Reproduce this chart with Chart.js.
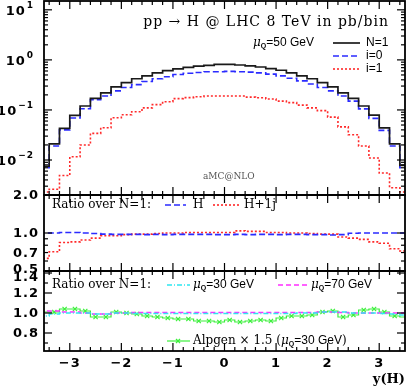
<!DOCTYPE html>
<html>
<head>
<meta charset="utf-8">
<script src="https://cdn.jsdelivr.net/npm/chart.js@4/dist/chart.umd.min.js"></script>
<style>
  html, body { margin: 0; padding: 0; background: #fff; }
</style>
</head>
<body>
<canvas id="c" width="407" height="389"></canvas>
<script>
// bin centres in y(H), bins are 0.2 wide
const binCenters = [-3.5, -3.3, -3.1, -2.9, -2.7, -2.5, -2.3, -2.1, -1.9, -1.7, -1.5, -1.3, -1.1, -0.9, -0.7, -0.5, -0.3, -0.1,
                    0.1, 0.3, 0.5, 0.7, 0.9, 1.1, 1.3, 1.5, 1.7, 1.9, 2.1, 2.3, 2.5, 2.7, 2.9, 3.1, 3.3, 3.5];
const binWidth = 0.2;

// top panel: pp -> H, pb/bin
const nEq1 = [0.0075, 0.021, 0.043, 0.078, 0.12, 0.17, 0.22, 0.29, 0.35, 0.42, 0.48, 0.55, 0.61, 0.66, 0.71, 0.75, 0.78, 0.81,
              0.81, 0.79, 0.76, 0.72, 0.67, 0.62, 0.55, 0.48, 0.42, 0.35, 0.29, 0.22, 0.17, 0.12, 0.079, 0.044, 0.021, 0.0078];
const iEq0 = [0.007, 0.019, 0.040, 0.069, 0.106, 0.16, 0.19, 0.24, 0.28, 0.32, 0.37, 0.42, 0.46, 0.51, 0.54, 0.56, 0.58, 0.58,
              0.59, 0.58, 0.57, 0.55, 0.52, 0.48, 0.43, 0.38, 0.33, 0.28, 0.24, 0.19, 0.15, 0.105, 0.068, 0.039, 0.019, 0.007];
const iEq1 = [0.0023, 0.0026, 0.0049, 0.0116, 0.020, 0.034, 0.044, 0.070, 0.080, 0.092, 0.11, 0.128, 0.146, 0.168, 0.176, 0.184, 0.19, 0.19,
              0.19, 0.19, 0.18, 0.175, 0.165, 0.15, 0.14, 0.125, 0.11, 0.097, 0.072, 0.046, 0.032, 0.019, 0.011, 0.0055, 0.0028, 0.0023];

// middle panel: ratio over N=1
const ratioH = [1.0, 1.0, 1.01, 1.01, 1.0, 0.99, 0.98, 0.975, 0.975, 0.975, 0.97, 0.975, 0.97, 0.975, 0.975, 0.975, 0.975, 0.97,
                0.97, 0.975, 0.97, 0.975, 0.975, 0.97, 0.975, 0.975, 0.97, 0.97, 0.965, 0.97, 0.995, 1.0, 1.0, 1.0, 1.0, 1.0];
const ratioH1j = [0.63, 0.71, 0.84, 0.85, 0.88, 0.91, 0.95, 0.95, 0.97, 0.98, 0.98, 0.99, 1.0, 1.0, 1.01, 1.01, 1.01, 1.01,
                  1.01, 1.04, 1.03, 1.03, 1.01, 1.01, 1.0, 1.0, 0.99, 0.98, 0.98, 0.93, 0.91, 0.89, 0.85, 0.83, 0.75, 0.72];

// bottom panel: ratio over N=1
const ratioMu30 = [0.97, 0.99, 1.0, 1.0, 1.0, 0.99, 0.99, 1.0, 1.0, 0.995, 0.995, 0.995, 0.995, 0.995, 0.995, 0.995, 0.995, 0.995,
                   0.995, 0.995, 0.995, 0.995, 0.995, 0.995, 0.995, 1.0, 1.0, 1.01, 1.01, 1.01, 1.0, 1.0, 1.0, 0.995, 0.99, 0.98];
const ratioMu70 = [1.02, 1.02, 1.01, 1.01, 1.0, 0.99, 0.99, 1.0, 1.0, 1.005, 1.005, 1.005, 1.005, 1.005, 1.005, 1.005, 1.005, 1.005,
                   1.005, 1.005, 1.005, 1.005, 1.005, 1.005, 1.005, 1.005, 1.005, 1.01, 1.01, 1.005, 1.0, 1.0, 1.0, 1.0, 1.0, 1.0];
const alpgen = [1.01, 1.01, 1.04, 1.04, 1.02, 0.96, 0.96, 1.01, 1.0, 0.99, 0.97, 0.96, 0.95, 0.94, 0.94, 0.92, 0.92, 0.91,
                0.93, 0.91, 0.92, 0.93, 0.92, 0.95, 0.97, 0.97, 0.98, 1.01, 1.02, 0.96, 0.98, 1.03, 1.04, 1.01, 0.97, 0.96];

// axis ticks and labels
const xTicks = [-3, -2, -1, 0, 1, 2, 3];
const xTickLabels = ['\u22123', '\u22122', '\u22121', '0', '1', '2', '3'];
const topTicks = [0.01, 0.1, 1, 10];
const topTickExp = ['\u22122', '\u22121', '0', '1'];
const midTicks = [0.5, 0.7, 1.0, 2.0];
const midTickLabels = ['0.5', '0.7', '1.0', '2.0'];
const botTicks = [0.8, 1.0, 1.2, 1.4];
const botTickLabels = ['0.8', '1.0', '1.2', '1.4'];

const SERIF = '"DejaVu Serif"';
const SANS = '"Liberation Sans"';
const TICK_FONT = 'bold 13px "DejaVu Sans"';

// histogram as stepped line: one point per left edge plus the last right edge
function histPoints(vals) {
    const pts = binCenters.map((c, i) => ({ x: c - binWidth / 2, y: vals[i] }));
    pts.push({ x: binCenters[binCenters.length - 1] + binWidth / 2, y: vals[vals.length - 1] });
    return pts;
}

function histLine(label, vals, axis, color, width, dash) {
    return {
        label: label, data: histPoints(vals), yAxisID: axis,
        borderColor: color, borderWidth: width, borderDash: dash,
        stepped: true, pointRadius: 0, fill: false
    };
}

const datasets = [
    histLine('N=1', nEq1, 'yTop', '#1a1a1a', 1.7, []),
    histLine('i=0', iEq0, 'yTop', '#2b2bff', 1.6, [6, 3]),
    histLine('i=1', iEq1, 'yTop', '#ff2a2a', 1.6, [2, 2]),
    histLine('H', ratioH, 'yMid', '#2b2bff', 1.6, [6, 3]),
    histLine('H+1j', ratioH1j, 'yMid', '#ff2a2a', 1.6, [2, 2]),
    histLine('mu30', ratioMu30, 'yBot', '#2ee6f0', 1.4, [5, 2, 1, 2]),
    histLine('mu70', ratioMu70, 'yBot', '#ff2eff', 1.4, [5, 3]),
    histLine('Alpgen', alpgen, 'yBot', '#3cf03c', 1.2, []),
    {
        label: 'Alpgen points',
        data: binCenters.map((c, i) => ({ x: c, y: alpgen[i] })),
        yAxisID: 'yBot', showLine: false,
        pointStyle: 'crossRot', borderColor: '#3cf03c', borderWidth: 1.2,
        pointRadius: ctx => (Math.abs(binCenters[ctx.dataIndex]) > 3.4 ? 0 : 3)
    }
];

function line(ctx, x0, y0, x1, y1) {
    ctx.beginPath(); ctx.moveTo(x0, y0); ctx.lineTo(x1, y1); ctx.stroke();
}

function legendLine(ctx, x0, x1, y, ds) {
    ctx.save();
    ctx.strokeStyle = ds.borderColor; ctx.lineWidth = ds.borderWidth;
    ctx.setLineDash(ds.borderDash || []);
    line(ctx, x0, y, x1, y);
    ctx.restore();
}

// write text pieces one after another
function drawParts(ctx, x, y, parts) {
    ctx.textAlign = 'left'; ctx.textBaseline = 'middle';
    for (const p of parts) {
        ctx.font = p.font;
        ctx.fillText(p.t, x, y + (p.dy || 0));
        x += ctx.measureText(p.t).width;
    }
    return x;
}

function muQ(val, size) {
    return [
        { t: '\u03bc', font: 'italic ' + size + 'px ' + SERIF },
        { t: 'Q', font: 'bold ' + Math.round(size * 0.62) + 'px ' + SANS, dy: 3 },
        { t: '=' + val + ' GeV', font: size + 'px ' + SANS }
    ];
}

const framePlugin = {
    id: 'frame',
    afterDatasetsDraw(chart) {
        const { ctx, chartArea: a, scales } = chart;
        const xs = scales.x;
        ctx.save();
        ctx.strokeStyle = '#000';
        ctx.fillStyle = '#000';
        ctx.lineWidth = 1.2;

        const panels = ['yTop', 'yMid', 'yBot'].map(id => scales[id]);
        const yMinor = {
            yTop: [], yMid: [0.6, 0.7, 0.8, 0.9], yBot: [0.7, 0.9, 1.1, 1.3]
        };
        for (let d = -3; d <= 1; d++) for (let m = 2; m <= 9; m++) yMinor.yTop.push(m * Math.pow(10, d));
        const yMajor = { yTop: topTicks, yMid: [1.0, 2.0], yBot: botTicks };

        for (const s of panels) {
            // x ticks, inward at top and bottom of each panel
            for (let k = -17; k <= 17; k++) {
                const px = xs.getPixelForValue(k / 5);
                const len = (k % 5 === 0) ? 8 : 4;
                line(ctx, px, s.top, px, s.top + len);
                line(ctx, px, s.bottom, px, s.bottom - len);
            }
            // y ticks, inward at left and right
            const draw = (v, len) => {
                if (v < s.min || v > s.max) return;
                const py = s.getPixelForValue(v);
                line(ctx, a.left, py, a.left + len, py);
                line(ctx, a.right, py, a.right - len, py);
            };
            yMinor[s.id].forEach(v => draw(v, 4));
            yMajor[s.id].forEach(v => draw(v, 8));
        }

        // panel frames
        ctx.lineWidth = 1.8;
        for (const s of panels) ctx.strokeRect(a.left, s.top, a.right - a.left, s.bottom - s.top);

        // tick labels
        ctx.textBaseline = 'middle';
        ctx.letterSpacing = '1px';
        const yt = scales.yTop;
        topTicks.forEach((v, i) => {
            const py = yt.getPixelForValue(v);
            ctx.textAlign = 'right';
            ctx.font = 'bold 9px "DejaVu Sans"';
            const w = ctx.measureText(topTickExp[i]).width;
            ctx.fillText(topTickExp[i], 34, py - 4);
            ctx.font = TICK_FONT;
            ctx.fillText('10', 33 - w, py + 2);
        });
        ctx.font = TICK_FONT;
        ctx.textAlign = 'right';
        midTicks.forEach((v, i) => ctx.fillText(midTickLabels[i], 39, scales.yMid.getPixelForValue(v) + (v === 0.5 ? -1 : 1)));
        botTicks.forEach((v, i) => ctx.fillText(botTickLabels[i], 39, scales.yBot.getPixelForValue(v) + (v === 1.4 ? 5 : 1)));
        ctx.textAlign = 'center';
        xTicks.forEach((v, i) => ctx.fillText(xTickLabels[i], xs.getPixelForValue(v), 364));
        ctx.letterSpacing = '0px';

        ctx.textAlign = 'right';
        ctx.font = 'bold 13px ' + SERIF;
        ctx.fillText('y(H)', 405, 380);

        // top panel texts and legend
        ctx.font = '14px ' + SERIF;
        ctx.letterSpacing = '1px';
        ctx.fillText('pp \u2192 H @ LHC 8 TeV in pb/bin', 389, 22);
        ctx.letterSpacing = '0px';
        drawParts(ctx, 253, 43, muQ(50, 12));
        const ds = chart.data.datasets;
        [[0, 'N=1', 43], [1, 'i=0', 56], [2, 'i=1', 69]].forEach(([k, t, y]) => {
            legendLine(ctx, 333, 360, y, ds[k]);
            ctx.fillStyle = '#000';
            drawParts(ctx, 366, y, [{ t: t, font: '12px ' + SANS }]);
        });
        ctx.fillStyle = '#555';
        drawParts(ctx, 203, 177, [{ t: 'aMC@NLO', font: '9px ' + SERIF }]);
        ctx.fillStyle = '#000';

        // middle panel legend
        drawParts(ctx, 52, 205, [{ t: 'Ratio over N=1:', font: '12px ' + SERIF }]);
        legendLine(ctx, 165, 186, 205, ds[3]);
        drawParts(ctx, 193, 205, [{ t: 'H', font: '12px ' + SERIF }]);
        legendLine(ctx, 213, 240, 205, ds[4]);
        drawParts(ctx, 244, 205, [{ t: 'H+1j', font: '12px ' + SERIF }]);

        // bottom panel legend
        drawParts(ctx, 52, 285, [{ t: 'Ratio over N=1:', font: '12px ' + SERIF }]);
        legendLine(ctx, 167, 190, 285, ds[5]);
        drawParts(ctx, 193, 285, muQ(30, 12));
        legendLine(ctx, 278, 307, 285, ds[6]);
        drawParts(ctx, 311, 285, muQ(70, 12));
        legendLine(ctx, 167, 190, 341, ds[7]);
        ctx.strokeStyle = ds[7].borderColor; ctx.lineWidth = 1.2;
        line(ctx, 176, 339, 180, 343); line(ctx, 176, 343, 180, 339);
        drawParts(ctx, 193, 341, [{ t: 'Alpgen \u00d7 1.5 (', font: '12px ' + SERIF }]
            .concat(muQ(30, 12), [{ t: ')', font: '12px ' + SERIF }]));
        ctx.restore();
    }
};

const hidden = { grid: { display: false, drawTicks: false }, border: { display: false }, ticks: { display: false } };

new Chart(document.getElementById('c').getContext('2d'), {
    type: 'line',
    data: { datasets: datasets },
    options: {
        responsive: false,
        animation: false,
        layout: { padding: { top: 1, right: 2, left: 0, bottom: 0 } },
        plugins: { legend: { display: false }, tooltip: { enabled: false } },
        scales: {
            x: Object.assign({ type: 'linear', min: -3.5, max: 3.5, afterFit: s => { s.height = 38; } }, hidden),
            yBot: Object.assign({ type: 'linear', min: 0.62, max: 1.42, position: 'left', stack: 'panels',
                stackWeight: 80, weight: 1, afterFit: s => { s.width = 44; } }, hidden),
            yMid: Object.assign({ type: 'logarithmic', min: 0.5, max: 2.0, position: 'left', stack: 'panels',
                stackWeight: 76, weight: 2, afterFit: s => { s.width = 44; } }, hidden),
            yTop: Object.assign({ type: 'logarithmic', min: 0.002, max: 15, position: 'left', stack: 'panels',
                stackWeight: 194, weight: 3, afterFit: s => { s.width = 44; } }, hidden)
        }
    },
    plugins: [framePlugin]
});
</script>
</body>
</html>
